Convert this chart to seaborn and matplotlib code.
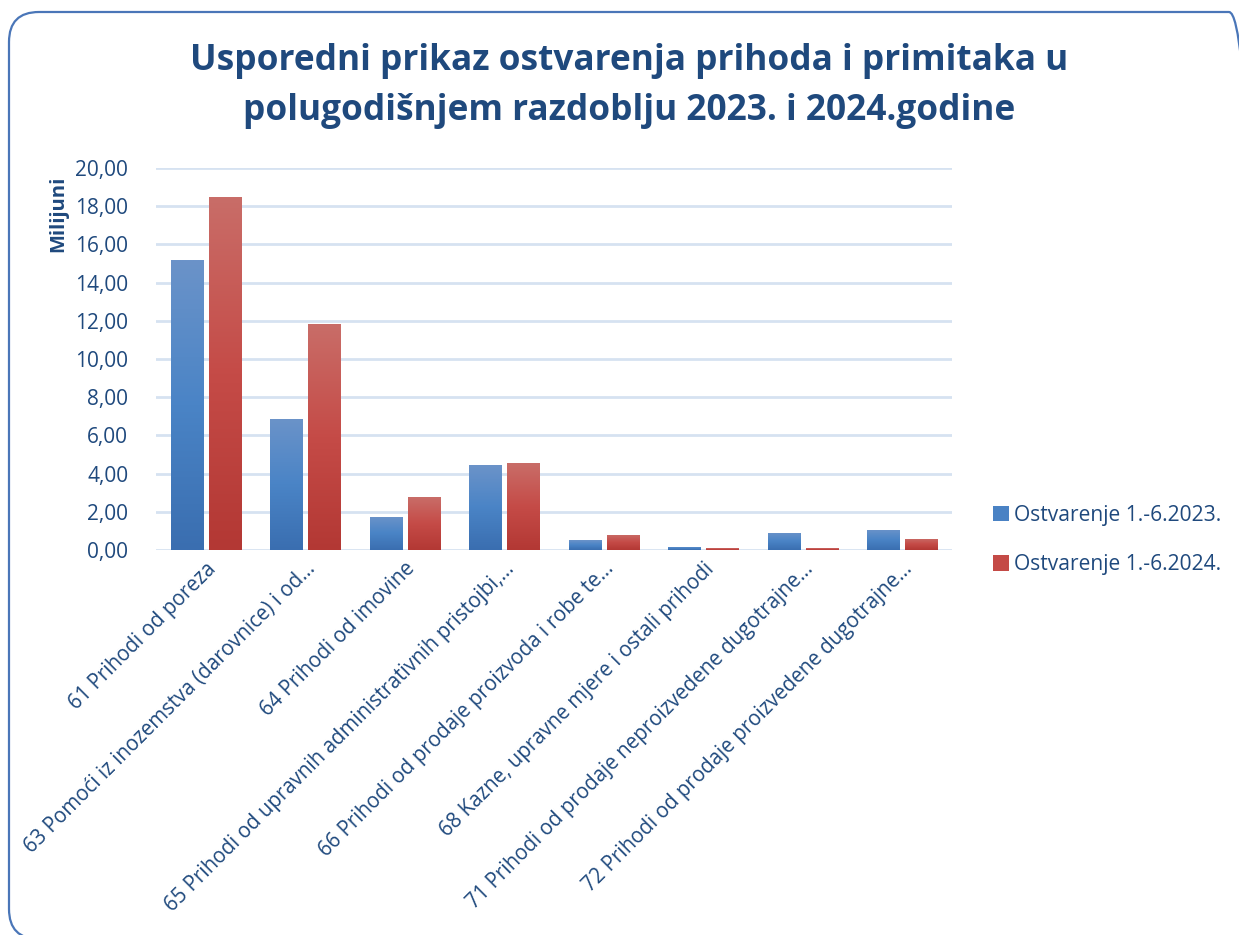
import numpy as np
import pandas as pd
import matplotlib
matplotlib.use("Agg")
import matplotlib.pyplot as plt
import seaborn as sns
from matplotlib.patches import FancyBboxPatch, Patch
from matplotlib.colors import LinearSegmentedColormap

categories = [
    "61 Prihodi od poreza",
    "63 Pomoći iz inozemstva (darovnice) i od…",
    "64 Prihodi od imovine",
    "65 Prihodi od upravnih administrativnih pristojbi,…",
    "66 Prihodi od prodaje proizvoda i robe te…",
    "68 Kazne, upravne mjere i ostali prihodi",
    "71 Prihodi od prodaje neproizvedene dugotrajne…",
    "72 Prihodi od prodaje proizvedene dugotrajne…",
]
series_names = ["Ostvarenje 1.-6.2023.", "Ostvarenje 1.-6.2024."]
values_2023 = [15.18, 6.86, 1.73, 4.45, 0.52, 0.16, 0.90, 1.05]
values_2024 = [18.48, 11.83, 2.77, 4.55, 0.79, 0.10, 0.10, 0.58]
y_ticks = [0, 2, 4, 6, 8, 10, 12, 14, 16, 18, 20]
y_tick_labels = ["0,00", "2,00", "4,00", "6,00", "8,00", "10,00", "12,00",
                 "14,00", "16,00", "18,00", "20,00"]

df = pd.DataFrame({
    "Kategorija": categories * 2,
    "Serija": [series_names[0]] * len(categories) + [series_names[1]] * len(categories),
    "Vrijednost": values_2023 + values_2024,
})

TEXT = "#1f497d"
FONT = "Open Sans"
plt.rcParams["font.family"] = [FONT, "DejaVu Sans"]

fig = plt.figure(figsize=(12.39, 9.35), dpi=100)
fig.patch.set_facecolor("white")
ax = fig.add_axes([156 / 1239, 1 - 550 / 935, 796 / 1239, 382 / 935])

blue_mid = "#4a82c4"
red_mid = "#c44a46"
sns.barplot(data=df, x="Kategorija", y="Vrijednost", hue="Serija",
            palette=[blue_mid, red_mid], width=0.765, gap=0.158,
            ax=ax, legend=False, errorbar=None)

grads = {
    0: LinearSegmentedColormap.from_list("b", ["#3a6eb0", "#4a84c6", "#6b93c9"]),
    1: LinearSegmentedColormap.from_list("r", ["#b33834", "#c54b47", "#c96d68"]),
}
n = len(categories)
grad_img = np.linspace(0, 1, 256).reshape(-1, 1)
for i, bar in enumerate(list(ax.patches)[: 2 * n]):
    s = i // n
    x0, y0 = bar.get_x(), bar.get_y()
    w, h = bar.get_width(), bar.get_height()
    bar.set_facecolor("none")
    bar.set_edgecolor("none")
    im = ax.imshow(grad_img, cmap=grads[s], origin="lower", aspect="auto",
                   extent=[x0, x0 + w, y0, y0 + h], zorder=3)
    im.set_clip_path(bar)

ax.set_xlim(-0.5, n - 0.5)
ax.set_ylim(0, 20)
ax.set_yticks(y_ticks)
ax.set_yticklabels(y_tick_labels)
ax.grid(axis="y", color="#d6e2f1", linewidth=2.0, zorder=0)
ax.set_axisbelow(True)
for sp in ax.spines.values():
    sp.set_visible(False)
ax.tick_params(axis="both", length=0, labelcolor=TEXT)
ax.tick_params(axis="y", pad=20, labelsize=15)
ax.tick_params(axis="x", pad=6, labelsize=14.8)
ax.set_xticks(range(n))
ax.set_xticklabels(categories, rotation=45, ha="right", rotation_mode="anchor")
ax.set_xlabel("")
ax.set_ylabel("")

fig.text(58 / 1239, 1 - 214 / 935, "Milijuni", rotation=90, ha="center", va="center",
         fontsize=14.5, fontweight="bold", color=TEXT)

fig.text(629 / 1239, 1 - 86 / 935,
         "Usporedni prikaz ostvarenja prihoda i primitaka u\npolugodišnjem razdoblju 2023. i 2024.godine",
         ha="center", va="center", fontsize=25.4, fontweight="bold", color=TEXT,
         linespacing=1.5)

handles = [Patch(facecolor=blue_mid, edgecolor="none"),
           Patch(facecolor=red_mid, edgecolor="none")]
leg = fig.legend(handles, series_names, loc="center left",
                 bbox_to_anchor=(985 / 1239, 1 - 540 / 935), frameon=False,
                 fontsize=15.1, handlelength=0.75, handleheight=0.75,
                 handletextpad=0.25, labelspacing=1.35, borderaxespad=0)
for t in leg.get_texts():
    t.set_color(TEXT)

frame = FancyBboxPatch((0.09, -0.04), 12.5, 9.27,
                       boxstyle="round,pad=0,rounding_size=0.3",
                       transform=fig.dpi_scale_trans, facecolor="none",
                       edgecolor="#4a76b8", linewidth=1.6, zorder=10)
fig.patches.append(frame)

fig.savefig("out.png", dpi=100)
